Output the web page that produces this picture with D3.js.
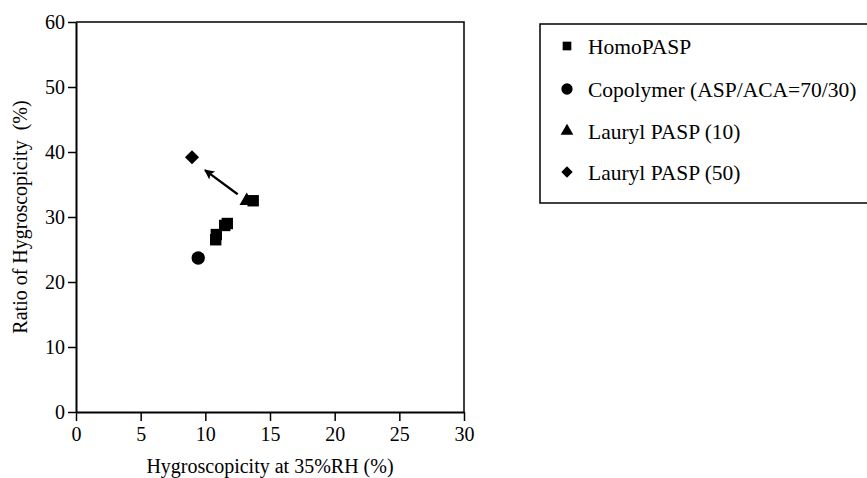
<!DOCTYPE html>
<html>
<head>
<meta charset="utf-8">
<script src="https://cdn.jsdelivr.net/npm/d3@7"></script>
<style>
  body { margin: 0; background: #fff; }
  text { font-family: "Liberation Serif", "Times New Roman", Times, serif; fill: #000; white-space: pre; }
</style>
</head>
<body>
<div id="chart"></div>
<script>
// chart size
const c_width = 867;
const c_height = 478;

// data
const homoX = [10.8, 10.85, 11.5, 11.7, 13.7];
const homoY = [26.5, 27.3, 28.7, 29.0, 32.5];
const copoX = [9.45];
const copoY = [23.7];
const lauryl10X = [13.2];
const lauryl10Y = [32.5];
const lauryl50X = [8.97];
const lauryl50Y = [39.2];
const arrowFrom = [12.5, 33.5];
const arrowTo = [9.97, 37.2];

const xTicks = [0, 5, 10, 15, 20, 25, 30];
const yTicks = [0, 10, 20, 30, 40, 50, 60];
const seriesNames = ["HomoPASP", "Copolymer (ASP/ACA=70/30)", "Lauryl PASP (10)", "Lauryl PASP (50)"];

const serif = '"Liberation Serif", "Times New Roman", Times, serif';

const svg = d3.select("#chart")
  .append("svg")
  .attr("width", c_width)
  .attr("height", c_height);

// plot box
const pLeft = 76, pRight = 464, pTop = 22, pBottom = 412;

const xScale = d3.scaleLinear().domain([0, 30]).range([pLeft, pRight]);
const yScale = d3.scaleLinear().domain([0, 60]).range([pBottom, pTop]);

// frame (top and right)
svg.append("path")
  .attr("d", `M${pLeft},${pTop}H${pRight}V${pBottom}`)
  .attr("fill", "none")
  .attr("stroke", "#000")
  .attr("stroke-width", 1.5);

// axes
const xAxis = d3.axisBottom(xScale).tickValues(xTicks).tickSize(9).tickSizeOuter(0).tickPadding(6);
const yAxis = d3.axisLeft(yScale).tickValues(yTicks).tickSize(8).tickSizeOuter(0).tickPadding(3);

const gx = svg.append("g")
  .attr("transform", "translate(0," + pBottom + ")")
  .call(xAxis)
  .attr("font-family", serif)
  .attr("font-size", 20);
gx.select(".domain").attr("stroke-width", 2.2);
gx.selectAll(".tick line").attr("stroke-width", 1.5);

const gy = svg.append("g")
  .attr("transform", "translate(" + pLeft + ",0)")
  .call(yAxis)
  .attr("font-family", serif)
  .attr("font-size", 20);
gy.select(".domain").attr("stroke-width", 2);
gy.selectAll(".tick line").attr("stroke-width", 1.5);

// axis titles
svg.append("text")
  .attr("x", (pLeft + pRight) / 2)
  .attr("y", 473)
  .attr("text-anchor", "middle")
  .style("font-size", "20px")
  .text("Hygroscopicity at 35%RH (%)");

svg.append("text")
  .attr("transform", "translate(27," + ((pTop + pBottom) / 2) + ") rotate(-90)")
  .attr("text-anchor", "middle")
  .style("font-size", "20px")
  .text("Ratio of Hygroscopicity  (%)");

// points
function drawPoints(xs, ys, shape, size, rot) {
  const pts = xs.map((x, i) => ({x: x, y: ys[i]}));
  svg.append("g").selectAll("path")
    .data(pts)
    .enter()
    .append("path")
    .attr("d", d3.symbol().type(shape).size(size))
    .attr("transform", d => "translate(" + xScale(d.x) + "," + yScale(d.y) + ") rotate(" + (rot || 0) + ")")
    .attr("fill", "#000");
}
drawPoints(lauryl10X, lauryl10Y, d3.symbolTriangle, 90);
drawPoints(homoX, homoY, d3.symbolSquare, 130);
drawPoints(copoX, copoY, d3.symbolCircle, 140);
drawPoints(lauryl50X, lauryl50Y, d3.symbolSquare, 100, 45);

// arrow
svg.append("defs").append("marker")
  .attr("id", "head")
  .attr("viewBox", "0 0 10 10")
  .attr("refX", 9)
  .attr("refY", 5)
  .attr("markerWidth", 13)
  .attr("markerHeight", 10)
  .attr("markerUnits", "userSpaceOnUse")
  .attr("orient", "auto")
  .append("path")
  .attr("d", "M0,0L10,5L0,10L2,5Z")
  .attr("fill", "#000");

svg.append("line")
  .attr("x1", xScale(arrowFrom[0]))
  .attr("y1", yScale(arrowFrom[1]))
  .attr("x2", xScale(arrowTo[0]))
  .attr("y2", yScale(arrowTo[1]))
  .attr("stroke", "#000")
  .attr("stroke-width", 2.2)
  .attr("marker-end", "url(#head)");

// legend
const legend = svg.append("g");
legend.append("rect")
  .attr("x", 540)
  .attr("y", 24)
  .attr("width", 340)
  .attr("height", 179)
  .attr("fill", "none")
  .attr("stroke", "#000")
  .attr("stroke-width", 1.5);

const rowY = [46, 89, 131, 172];
const legendShapes = [d3.symbolSquare, d3.symbolCircle, d3.symbolTriangle, d3.symbolSquare];
const legendSizes = [75, 100, 70, 65];
const legendRot = [0, 0, 0, 45];
seriesNames.forEach((name, i) => {
  legend.append("path")
    .attr("d", d3.symbol().type(legendShapes[i]).size(legendSizes[i]))
    .attr("transform", "translate(567," + rowY[i] + ") rotate(" + legendRot[i] + ")")
    .attr("fill", "#000");
  legend.append("text")
    .attr("x", 588)
    .attr("y", rowY[i])
    .attr("dy", "0.35em")
    .style("font-size", "21.5px")
    .text(name);
});
</script>
</body>
</html>
